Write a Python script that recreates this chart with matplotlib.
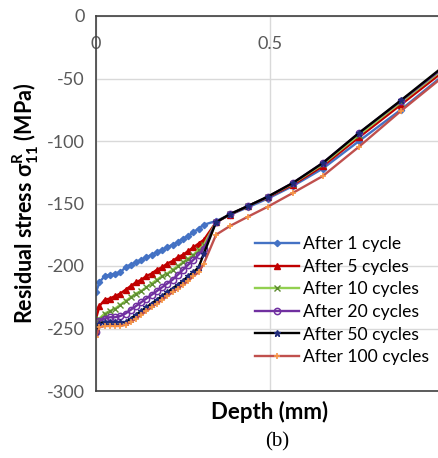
import matplotlib
matplotlib.use("Agg")
import matplotlib.pyplot as plt

plt.rcParams['font.family'] = ['Lato', 'DejaVu Sans']
plt.rcParams['mathtext.fontset'] = 'custom'
plt.rcParams['mathtext.bf'] = 'Lato:bold'
plt.rcParams['mathtext.rm'] = 'Lato'
plt.rcParams['axes.unicode_minus'] = False

depth = [0, 0.01, 0.025, 0.04, 0.055, 0.07, 0.085, 0.10, 0.115, 0.13, 0.145, 0.16,
         0.175, 0.19, 0.205, 0.22, 0.235, 0.25, 0.265, 0.28, 0.295, 0.31,
         0.345, 0.385, 0.437, 0.494, 0.566, 0.652, 0.756, 0.876, 1.0]

after_1 = [-221, -213, -208, -207, -206, -205, -201, -199, -197, -195, -193, -191,
           -189, -187, -185, -183, -181, -178, -176, -173, -170, -167,
           -164, -159, -153, -146, -136, -122, -100, -75, -47]
after_5 = [-242, -232, -227, -226, -224, -222, -219, -216, -213, -211, -208, -206,
           -203, -201, -198, -196, -193, -191, -188, -185, -182, -179,
           -165, -159, -152, -145, -135, -120, -97, -71, -44]
after_10 = [-247, -242, -238, -236, -234, -231, -228, -225, -222, -220, -217, -214,
            -211, -208, -206, -203, -200, -197, -194, -191, -187, -183,
            -165, -158.5, -152, -144.5, -134, -118.5, -95, -69, -42]
after_20 = [-253, -244, -242, -241, -241, -240, -238, -235, -232, -229, -226, -223,
            -220, -217, -214, -211, -207, -203, -199, -195, -191, -186,
            -165, -158.5, -152, -144.5, -133.5, -117.5, -93.5, -68, -41]
after_50 = [-252, -246, -245, -245, -245, -245, -245, -242, -239, -236, -233, -230,
            -227, -224, -221, -218, -215, -212, -208, -205, -201, -190,
            -165, -158.5, -152, -144.5, -133.5, -117.5, -93.5, -67.5, -40]
after_100 = [-257, -249, -248, -248, -248, -248, -247, -245, -242, -239, -236, -233,
             -230, -227, -224, -221, -218, -215, -212, -208, -205, -198,
             -175, -168, -160.5, -152.5, -141.5, -128, -104.5, -76, -48]

labels = ["After 1 cycle", "After 5 cycles", "After 10 cycles",
          "After 20 cycles", "After 50 cycles", "After 100 cycles"]
series = [after_1, after_5, after_10, after_20, after_50, after_100]
x_ticks = [0, 0.5]
x_ticklabels = ['0', '0.5']
y_ticks = [-300, -250, -200, -150, -100, -50, 0]

styles = [
    dict(color='#4472C4', marker='D', ms=3.2, mfc='#4472C4', mec='#4472C4'),
    dict(color='#C00000', marker='^', ms=4.5, mfc='#C00000', mec='#C00000'),
    dict(color='#92D050', marker='x', ms=4, mfc='#5E8C31', mec='#5E8C31', mew=1),
    dict(color='#7030A0', marker='o', ms=4.5, mfc='none', mec='#7030A0', mew=1.1),
    dict(color='#000000', marker='*', ms=4.5, mfc='#1F2A7A', mec='#1F2A7A'),
    dict(color='#C0504D', marker='+', ms=4.5, mfc='#F79646', mec='#F79646', mew=1.2),
]

W, H = 438, 458
fig = plt.figure(figsize=(W / 100, H / 100), dpi=100)
left, right, top, bottom = 96, 444, 16, 391
ax = fig.add_axes([left / W, 1 - bottom / H, (right - left) / W, (bottom - top) / H])

for y, lab, st in zip(series, labels, styles):
    ax.plot(depth, y, label=lab, lw=1.7, **st)

ax.set_xlim(0, 1)
ax.set_ylim(-300, 0)
ax.set_yticks(y_ticks)
ax.set_xticks(x_ticks + [1.0])
ax.set_xticklabels(x_ticklabels + [''])

ax.xaxis.set_ticks_position('top')
ax.tick_params(axis='x', which='both', length=0, pad=-26, labelsize=13,
               labelcolor='#595959', labeltop=True, labelbottom=False)
ax.tick_params(axis='y', length=0, pad=8, labelsize=13, labelcolor='#595959')

ax.grid(True, color='#D9D9D9', lw=1)
ax.set_axisbelow(True)
for s in ['left', 'top', 'bottom']:
    ax.spines[s].set_color('#404040')
    ax.spines[s].set_linewidth(1.2)
ax.spines['right'].set_visible(False)

fig.text(26 / W, 1 - 203 / H,
         r'Residual stress σ$^{\mathbf{R}}_{\mathbf{11}}$ (MPa)',
         rotation=90, ha='center', va='center', fontsize=15.5, fontweight='bold')
fig.text(270 / W, 1 - 412 / H, 'Depth (mm)', ha='center', va='center',
         fontsize=16, fontweight='bold')
fig.text(277 / W, 1 - 442 / H, '(b)', ha='center', va='center',
         fontsize=15, family='Liberation Serif')

leg = ax.legend(loc='upper left', bbox_to_anchor=(255 / W, 1 - 236 / H),
                bbox_transform=fig.transFigure, frameon=False, fontsize=12.6,
                borderpad=0, borderaxespad=0, handlelength=2.5,
                handletextpad=0.25, labelspacing=0.38)

fig.savefig('out.png', dpi=100)
